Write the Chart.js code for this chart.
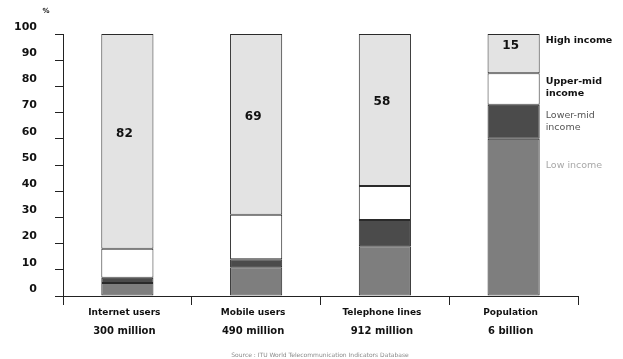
<!DOCTYPE html>
<html>
<head>
<meta charset="utf-8">
<script src="https://cdn.jsdelivr.net/npm/chart.js@4/dist/chart.umd.min.js"></script>
<style>
  html, body { margin: 0; padding: 0; background: #ffffff; }
  #wrap { width: 623px; height: 359px; position: relative; }
  canvas { filter: blur(0.35px); }
</style>
</head>
<body>
<div id="wrap"><canvas id="c" width="623" height="359"></canvas></div>
<script>
// Share of each service held by country income group (%)
const categories = ['Internet users', 'Mobile users', 'Telephone lines', 'Population'];
const totals = ['300 million', '490 million', '912 million', '6 billion'];
const yTicks = [0, 10, 20, 30, 40, 50, 60, 70, 80, 90, 100];

const lowIncome      = [5, 11, 19, 60];
const lowerMidIncome = [2, 3, 10, 13];
const upperMidIncome = [11, 17, 13, 12];
const highIncome     = [82, 69, 58, 15];

const FONT = '"DejaVu Sans", Verdana, sans-serif';

// Group names written beside the last column, one entry per dataset
const groupLabels = [
  { lines: ['Low income'], color: '#a8a8a8', weight: 'normal', offsets: [27] },
  { lines: ['Lower-mid', 'income'], color: '#555555', weight: 'normal', offsets: [11, 23] },
  { lines: ['Upper-mid', 'income'], color: '#111111', weight: 'bold', offsets: [8, 20] },
  { lines: ['High income'], color: '#111111', weight: 'bold', offsets: [7] }
];

const annotate = {
  id: 'annotate',
  afterDatasetsDraw(chart) {
    const ctx = chart.ctx;
    const x = chart.scales.x;
    const area = chart.chartArea;
    ctx.save();

    // share of the high-income group inside the top segment
    const highMeta = chart.getDatasetMeta(3);
    ctx.fillStyle = '#111111';
    ctx.font = 'bold 12px ' + FONT;
    ctx.textAlign = 'center';
    ctx.textBaseline = 'middle';
    highMeta.data.forEach((el, i) => {
      ctx.fillText(String(highIncome[i]), el.x - 3, (el.y + el.base) / 2 - 8);
    });

    // income group names next to the population column
    const last = categories.length - 1;
    ctx.textAlign = 'left';
    groupLabels.forEach((g, d) => {
      const el = chart.getDatasetMeta(d).data[last];
      const left = el.x + el.width / 2 + 6;
      ctx.fillStyle = g.color;
      ctx.font = g.weight + ' 9.5px ' + FONT;
      g.lines.forEach((t, k) => ctx.fillText(t, left, el.y + g.offsets[k]));
    });

    // two-line category captions
    ctx.fillStyle = '#111111';
    ctx.textAlign = 'center';
    categories.forEach((c, i) => {
      const cx = x.getPixelForValue(i) - 3;
      ctx.font = 'bold 9px ' + FONT;
      ctx.fillText(c, cx, area.bottom + 17);
      ctx.font = 'bold 10px ' + FONT;
      ctx.fillText(totals[i], cx, area.bottom + 35);
    });

    // unit mark above the value axis
    ctx.font = 'bold 7px ' + FONT;
    ctx.fillText('%', 46, 11);

    // source line
    ctx.fillStyle = '#8a8a8a';
    ctx.font = '6px ' + FONT;
    ctx.fillText('Source : ITU World Telecommunication Indicators Database', 320, 355);
    ctx.restore();
  }
};

const segment = (label, data, color) => ({
  label, data,
  backgroundColor: color,
  borderColor: '#2a2a2a',
  borderWidth: 1,
  borderSkipped: false,
  categoryPercentage: 1,
  barPercentage: 0.405,
  clip: false
});

new Chart(document.getElementById('c'), {
  type: 'bar',
  data: {
    labels: categories,
    datasets: [
      segment('Low income', lowIncome, '#7e7e7e'),
      segment('Lower-mid income', lowerMidIncome, '#4b4b4b'),
      segment('Upper-mid income', upperMidIncome, '#ffffff'),
      segment('High income', highIncome, '#e3e3e3')
    ]
  },
  options: {
    responsive: false,
    animation: false,
    layout: { padding: { top: 34, right: 45, bottom: 0, left: 0 } },
    plugins: { legend: { display: false }, tooltip: { enabled: false } },
    scales: {
      x: {
        stacked: true,
        border: { display: true, color: '#222222', width: 1 },
        grid: { display: true, offset: true, drawOnChartArea: false, drawTicks: true, tickLength: 9, color: '#222222' },
        ticks: { display: false },
        afterFit(s) { s.height = 63; }
      },
      y: {
        stacked: true,
        min: 0,
        max: 100,
        afterBuildTicks(s) { s.ticks = yTicks.map(v => ({ value: v })); },
        border: { display: true, color: '#222222', width: 1 },
        grid: { display: true, drawOnChartArea: false, drawTicks: true, tickLength: 8, color: '#222222' },
        ticks: {
          color: '#111111',
          font: { family: FONT, size: 11, weight: 'bold' },
          padding: 18,
          labelOffset: -7
        },
        afterFit(s) { s.width = 63; }
      }
    }
  },
  plugins: [annotate]
});
</script>
</body>
</html>
